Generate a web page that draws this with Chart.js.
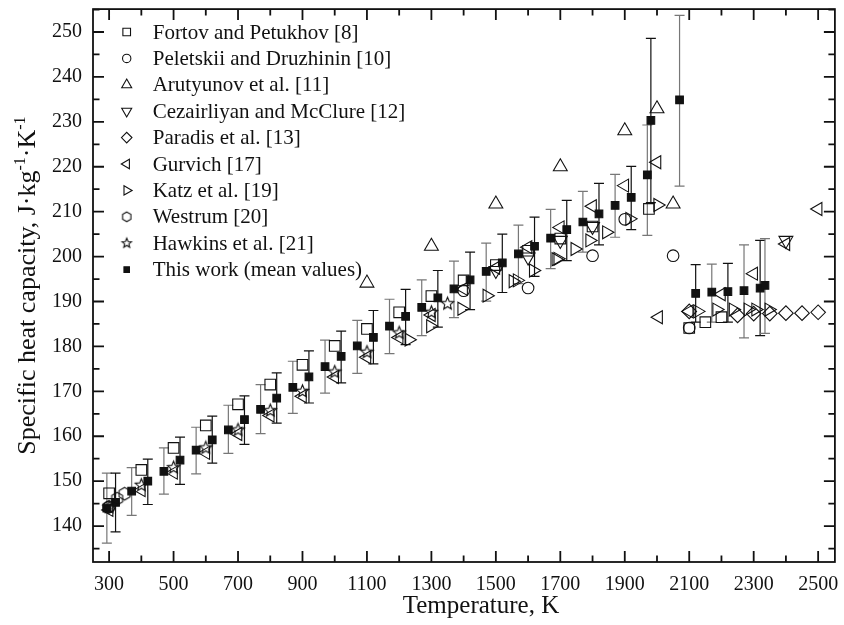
<!DOCTYPE html>
<html>
<head>
<meta charset="utf-8">
<script src="https://cdn.jsdelivr.net/npm/chart.js@4.4.0/dist/chart.umd.min.js"></script>
<style>
  html, body { margin: 0; padding: 0; background: #fff; }
</style>
</head>
<body>
<canvas id="cpChart" width="844" height="625"></canvas>
<script>
// ---- data (T in K, cp in J/kg/K) ----
const fortovT  = [300, 400, 500, 600, 700, 800, 900, 1000, 1100, 1200, 1300, 1400, 1500, 1600, 1700, 1800, 1975, 2100, 2150, 2200];
const fortovCp = [147.3, 152.5, 157.4, 162.4, 167.1, 171.5, 175.9, 180.1, 183.9, 187.6, 191.2, 194.7, 198.1, 201.3, 204.0, 206.7, 210.6, 184.1, 185.4, 186.5];

const peletT  = [300, 1400, 1600, 1800, 1900, 2050, 2100];
const peletCp = [144.3, 192.4, 193.0, 200.2, 208.3, 200.2, 184.1];

const arutT  = [1100, 1300, 1500, 1700, 1900, 2000, 2050];
const arutCp = [194.1, 202.3, 211.7, 220.0, 228.0, 232.9, 211.7];

const cezT  = [1500, 1600, 1700, 1800, 2400];
const cezCp = [196.9, 199.9, 203.6, 206.7, 203.6];

const paradisT  = [2100, 2250, 2300, 2350, 2400, 2450, 2500];
const paradisCp = [187.8, 186.9, 187.3, 187.3, 187.4, 187.4, 187.6];

const gurvichT  = [300, 400, 500, 600, 700, 800, 900, 1000, 1100, 1200, 1300, 1400, 1500, 1600, 1700, 1800, 1900, 2000, 2005, 2100, 2200, 2300, 2400, 2500];
const gurvichCp = [143.6, 148.0, 151.9, 156.3, 160.5, 164.6, 168.9, 173.2, 177.6, 182.0, 187.0, 192.8, 197.5, 202.1, 206.5, 211.2, 215.8, 221.0, 186.5, 187.8, 191.6, 196.2, 202.8, 210.6];

const katzT  = [1230, 1297, 1394, 1472, 1553, 1566, 1616, 1686, 1692, 1745, 1791, 1843, 1915, 2002, 2126, 2185, 2236, 2282, 2306, 2347];
const katzCp = [181.5, 184.5, 188.4, 191.3, 194.5, 194.7, 196.9, 199.4, 199.5, 201.7, 203.6, 205.4, 208.4, 211.5, 187.8, 188.2, 188.2, 188.2, 188.2, 188.2];

const westrumT  = [298, 325, 348];
const westrumCp = [144.2, 146.1, 147.2];

const hawkinsT  = [300, 400, 500, 600, 700, 800, 900, 1000, 1100, 1200, 1300, 1350];
const hawkinsCp = [144.2, 149.1, 153.0, 157.4, 161.4, 165.7, 170.0, 174.3, 178.7, 183.0, 187.6, 189.5];

// this work: mean values and error bar limits
const workT  = [293, 320, 370, 420, 470, 520, 570, 620, 670, 720, 770, 820, 870, 920, 970, 1020, 1070, 1120, 1170, 1220, 1270, 1320, 1370, 1420, 1470, 1520, 1570, 1620, 1670, 1720, 1770, 1820, 1870, 1920, 1970, 1981, 2070, 2120, 2170, 2220, 2270, 2320, 2335];
const workCp = [144.0, 145.3, 147.8, 150.0, 152.2, 154.7, 156.9, 159.2, 161.4, 163.7, 166.0, 168.5, 170.9, 173.2, 175.5, 177.8, 180.1, 182.0, 184.5, 186.7, 188.7, 190.8, 192.8, 194.8, 196.7, 198.6, 200.6, 202.3, 204.1, 206.0, 207.7, 209.5, 211.4, 213.2, 218.2, 230.3, 234.9, 191.8, 192.1, 192.2, 192.4, 193.0, 193.6];
const workLo = [136.2, 138.7, 142.4, 144.8, 147.1, 149.3, 151.6, 154.0, 156.2, 158.2, 160.6, 162.9, 165.1, 167.4, 169.6, 171.9, 174.0, 176.1, 178.4, 180.4, 182.4, 184.3, 186.4, 188.2, 190.1, 192.0, 194.0, 195.6, 197.3, 199.1, 201.0, 202.6, 204.3, 206.0, 204.7, 212.0, 215.7, 185.4, 185.4, 185.4, 181.9, 182.4, 182.9];
const workHi = [151.8, 151.8, 153.0, 154.9, 157.4, 159.8, 162.0, 164.5, 166.9, 169.0, 171.5, 174.1, 176.7, 179.0, 181.4, 183.4, 185.8, 188.0, 190.5, 192.7, 194.8, 196.9, 199.0, 201.0, 203.0, 205.0, 207.0, 208.8, 210.5, 212.5, 214.5, 216.3, 218.3, 220.1, 229.3, 248.6, 253.7, 198.2, 198.3, 198.5, 202.6, 203.6, 204.0];

const xTickLabels = [300, 500, 700, 900, 1100, 1300, 1500, 1700, 1900, 2100, 2300, 2500];
const yTickLabels = [140, 150, 160, 170, 180, 190, 200, 210, 220, 230, 240, 250];

const xTitle = 'Temperature, K';
const yTitleParts = [['Specific heat capacity, J·kg', false], ['-1', true], ['·K', false], ['-1', true]];

const FONT = '"Liberation Serif", "Times New Roman", serif';
const INK = '#111';

// open marker shapes chart.js does not have
function makeMarker(kind, r) {
  const s = Math.ceil(r * 2 + 4);
  const c = document.createElement('canvas');
  c.width = s; c.height = s;
  const g = c.getContext('2d');
  g.strokeStyle = INK;
  g.lineWidth = 1.1;
  g.beginPath();
  const cx = s / 2, cy = s / 2;
  if (kind === 'star') {
    for (let i = 0; i < 10; i++) {
      const rr = i % 2 === 0 ? r : r * 0.45;
      const a = -Math.PI / 2 + i * Math.PI / 5;
      const px = cx + rr * Math.cos(a), py = cy + rr * Math.sin(a);
      i === 0 ? g.moveTo(px, py) : g.lineTo(px, py);
    }
  } else {
    for (let i = 0; i < 6; i++) {
      const a = -Math.PI / 2 + i * Math.PI / 3;
      const px = cx + r * Math.cos(a), py = cy + r * Math.sin(a);
      i === 0 ? g.moveTo(px, py) : g.lineTo(px, py);
    }
  }
  g.closePath();
  g.stroke();
  return c;
}

const pts = (xs, ys) => xs.map((x, i) => ({ x, y: ys[i] }));

function series(label, xs, ys, style, radius, rotation, filled, legendStyle) {
  return {
    label,
    data: pts(xs, ys),
    showLine: false,
    pointStyle: style,
    pointRadius: radius,
    pointRotation: rotation,
    pointBorderWidth: 1.1,
    pointBorderColor: INK,
    pointBackgroundColor: filled ? INK : 'rgba(0,0,0,0)',
    legendStyle: legendStyle || style,
  };
}

const datasets = [
  series('Fortov and Petukhov [8]', fortovT, fortovCp, 'rect', 7.5, 0, false),
  series('Peletskii and Druzhinin [10]', peletT, peletCp, 'circle', 5.8, 0, false),
  series('Arutyunov et al. [11]', arutT, arutCp, 'triangle', 8, 0, false),
  series('Cezairliyan and McClure [12]', cezT, cezCp, 'triangle', 8, 180, false),
  series('Paradis et al. [13]', paradisT, paradisCp, 'rectRot', 7.3, 0, false),
  series('Gurvich [17]', gurvichT, gurvichCp, 'triangle', 7.5, -90, false),
  series('Katz et al. [19]', katzT, katzCp, 'triangle', 7.5, 90, false),
  series('Westrum [20]', westrumT, westrumCp, makeMarker('hex', 6.3), 6.3, 0, false, makeMarker('hex', 4.8)),
  series('Hawkins et al. [21]', hawkinsT, hawkinsCp, makeMarker('star', 6.5), 6.5, 0, false, makeMarker('star', 5)),
  series('This work (mean values)', workT, workCp, 'rect', 5.4, 0, true),
];

// error bars for "this work", drawn under the markers
const errorBars = {
  id: 'errorBars',
  beforeDatasetsDraw(chart) {
    const { ctx, scales: { x, y } } = chart;
    ctx.save();
    ctx.lineWidth = 1.2;
    workT.forEach((t, i) => {
      const px = x.getPixelForValue(t);
      const top = y.getPixelForValue(workHi[i]);
      const bot = y.getPixelForValue(workLo[i]);
      ctx.strokeStyle = i % 2 === 0 ? '#777' : '#111';
      ctx.beginPath();
      ctx.moveTo(px, top); ctx.lineTo(px, bot);
      ctx.moveTo(px - 5, top); ctx.lineTo(px + 5, top);
      ctx.moveTo(px - 5, bot); ctx.lineTo(px + 5, bot);
      ctx.stroke();
    });
    ctx.restore();
  },
};

// box, inward ticks on all four sides, titles and the legend
const frame = {
  id: 'frame',
  afterDraw(chart) {
    const { ctx, chartArea: a, scales: { x, y } } = chart;
    ctx.save();
    ctx.strokeStyle = INK;
    ctx.lineWidth = 1.8;
    ctx.strokeRect(a.left, a.top, a.right - a.left, a.bottom - a.top);

    ctx.beginPath();
    for (let v = 300; v <= 2500; v += 100) {
      const px = x.getPixelForValue(v);
      const len = xTickLabels.includes(v) ? 11 : 6.5;
      ctx.moveTo(px, a.bottom); ctx.lineTo(px, a.bottom - len);
      ctx.moveTo(px, a.top); ctx.lineTo(px, a.top + len);
    }
    for (let v = 135; v <= 255; v += 5) {
      const py = y.getPixelForValue(v);
      const len = yTickLabels.includes(v) ? 11 : 6.5;
      ctx.moveTo(a.left, py); ctx.lineTo(a.left + len, py);
      ctx.moveTo(a.right, py); ctx.lineTo(a.right - len, py);
    }
    ctx.stroke();

    // axis titles
    ctx.fillStyle = INK;
    ctx.font = `25px ${FONT}`;
    ctx.textAlign = 'center';
    ctx.textBaseline = 'middle';
    ctx.fillText(xTitle, 481, 606);

    ctx.save();
    ctx.translate(26, (a.top + a.bottom) / 2);
    ctx.rotate(-Math.PI / 2);
    ctx.textAlign = 'left';
    ctx.textBaseline = 'alphabetic';
    const fonts = { false: `26px ${FONT}`, true: `16px ${FONT}` };
    let total = 0;
    yTitleParts.forEach(([t, sup]) => { ctx.font = fonts[sup]; total += ctx.measureText(t).width; });
    let cx = -total / 2;
    yTitleParts.forEach(([t, sup]) => {
      ctx.font = fonts[sup];
      ctx.fillText(t, cx, sup ? -1 : 9);
      cx += ctx.measureText(t).width;
    });
    ctx.restore();

    // legend
    ctx.font = `21px ${FONT}`;
    ctx.textAlign = 'left';
    ctx.textBaseline = 'middle';
    chart.data.datasets.forEach((ds, i) => {
      const ly = 32 + i * 26.4;
      const st = ds.legendStyle;
      if (st instanceof HTMLCanvasElement) {
        ctx.drawImage(st, 126.7 - st.width / 2, ly - st.height / 2);
      } else {
        ctx.strokeStyle = INK;
        ctx.fillStyle = ds.pointBackgroundColor;
        ctx.lineWidth = 1.1;
        Chart.helpers.drawPoint(ctx, {
          pointStyle: st, radius: ds.pointRadius * 0.72, rotation: ds.pointRotation, borderWidth: 1.1,
        }, 126.7, ly);
      }
      ctx.fillStyle = INK;
      ctx.fillText(ds.label, 152.7, ly + 1);
    });
    ctx.restore();
  },
};

const tickFont = { family: FONT, size: 20 };

new Chart(document.getElementById('cpChart'), {
  type: 'scatter',
  data: { datasets },
  options: {
    responsive: false,
    animation: false,
    devicePixelRatio: 1,
    layout: { padding: { top: 7.5, right: 6, left: 0, bottom: 0 } },
    plugins: { legend: { display: false }, tooltip: { enabled: false } },
    scales: {
      x: {
        type: 'linear',
        min: 250,
        max: 2552,
        grid: { display: false, drawTicks: false },
        border: { display: false },
        afterBuildTicks: s => { s.ticks = xTickLabels.map(v => ({ value: v })); },
        afterFit: s => { s.height = 63; s.paddingLeft = 0; s.paddingRight = 0; },
        ticks: { font: tickFont, color: INK, padding: 11, maxRotation: 0, autoSkip: false, callback: v => String(v) },
      },
      y: {
        min: 132,
        max: 255.1,
        grid: { display: false, drawTicks: false },
        border: { display: false },
        afterBuildTicks: s => { s.ticks = yTickLabels.map(v => ({ value: v })); },
        afterFit: s => { s.width = 93; s.paddingTop = 0; s.paddingBottom = 0; },
        ticks: { font: tickFont, color: INK, padding: 11, autoSkip: false, callback: v => String(v) },
      },
    },
  },
  plugins: [errorBars, frame],
});
</script>
</body>
</html>
